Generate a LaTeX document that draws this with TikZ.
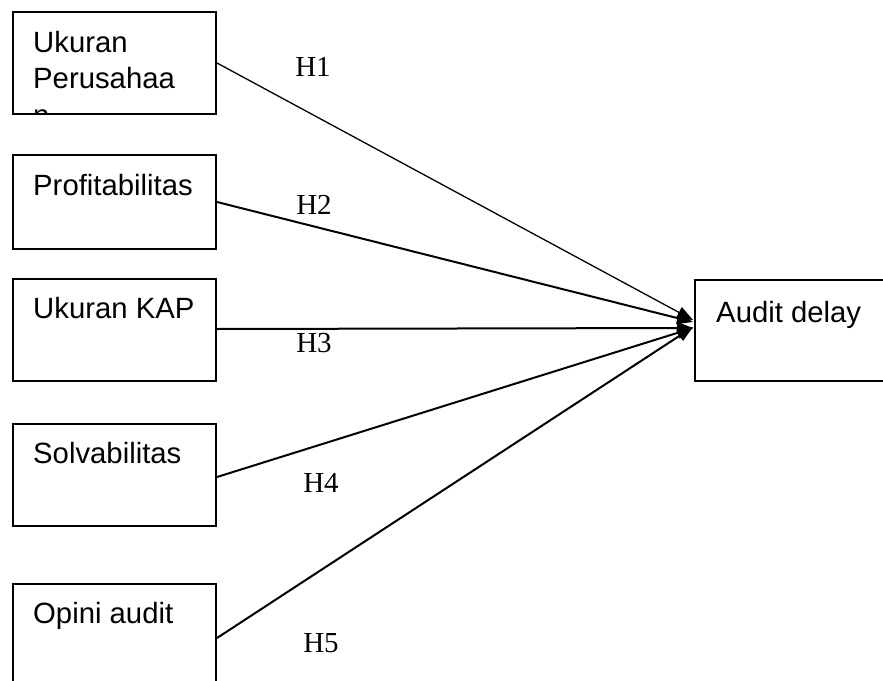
\documentclass[tikz,border=0pt]{standalone}
\usepackage{fontspec}
\setmainfont{Liberation Serif}
\newfontfamily\arialf{Liberation Sans}
\usetikzlibrary{arrows.meta}
\begin{document}
\begin{tikzpicture}[x=1pt,y=-1pt,
  boxst/.style={draw,line width=2pt,rectangle,inner sep=0pt,anchor=north west},
  lbl/.style={font=\arialf\fontsize{29.3}{36}\selectfont,anchor=base west,inner sep=0pt},
  hlbl/.style={font=\fontsize{29}{34}\selectfont,inner sep=0pt},
  arr/.style={line width=2pt,-{Triangle[length=16pt,width=12pt]}}]
\clip (0,0) rectangle (883,680);
\fill[white] (0,0) rectangle (883,680);
% boxes
\node[boxst,minimum width=203pt,minimum height=102pt] (b1) at (12,11) {};
\node[boxst,minimum width=203pt,minimum height=94pt] (b2) at (12,154) {};
\node[boxst,minimum width=203pt,minimum height=102pt] (b3) at (12,278) {};
\node[boxst,minimum width=203pt,minimum height=102pt] (b4) at (12,423) {};
\node[boxst,minimum width=203pt,minimum height=108pt] (b5) at (12,583) {};
\node[boxst,minimum width=220pt,minimum height=101pt] (ad) at (694,279) {};
% texts
\begin{scope}
\clip (13,12) rectangle (214,112);
\node[lbl] (t1a) at (33,52) {Ukuran};
\node[lbl] (t1b) at (33,88) {Perusahaa};
\node[lbl] (t1c) at (33,125) {n};
\end{scope}
\node[lbl] (t2) at (33,195) {Profitabilitas};
\node[lbl] (t3) at (33,318) {Ukuran KAP};
\node[lbl] (t4) at (33,463) {Solvabilitas};
\node[lbl] (t5) at (33,623) {Opini audit};
\node[lbl] (t6) at (716,322) {Audit delay};
% target points
\coordinate (e1) at (693,320);
\coordinate (e2) at (693,322);
\coordinate (e3) at (693,328);
\coordinate (e4) at (693,328);
\coordinate (e5) at (693,327);
% connectors
\draw[arr,line width=1.3pt] (b1.east) -- (e1);
\draw[arr] (b2.east) -- (e2);
\draw[arr] ([yshift=1pt]b3.east) -- (e3);
\draw[arr] ([yshift=-2pt]b4.east) -- (e4);
\draw[arr] (b5.east) -- (e5);
% labels
\node[hlbl] (h1) at (313,67) {H1};
\node[hlbl] (h2) at (314,205) {H2};
\node[hlbl] (h3) at (314,343) {H3};
\node[hlbl] (h4) at (321,483) {H4};
\node[hlbl] (h5) at (321,643) {H5};
\end{tikzpicture}
\end{document}
